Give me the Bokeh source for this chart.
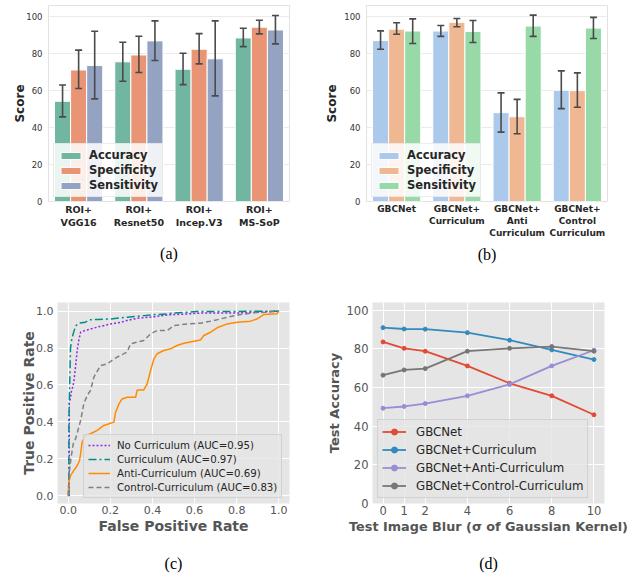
from bokeh.plotting import figure
from bokeh.models import (Range1d, FixedTicker, Legend, LegendItem, LinearAxis)
from bokeh.layouts import column, row
from bokeh.embed import file_html
from bokeh.resources import INLINE

# ---------------- data: panel (a) ----------------
a_categories = ["ROI+\nVGG16", "ROI+\nResnet50", "ROI+\nIncep.V3", "ROI+\nMS-SoP"]
a_metrics = ["Accuracy", "Specificity", "Sensitivity"]
a_accuracy = [54.1, 75.4, 71.4, 88.3]
a_accuracy_lo = [45.7, 64.9, 63.1, 83.6]
a_accuracy_hi = [62.9, 86.0, 80.0, 93.5]
a_specificity = [71.0, 79.1, 82.2, 94.1]
a_specificity_lo = [61.0, 69.6, 74.3, 90.5]
a_specificity_hi = [81.7, 89.2, 90.6, 97.8]
a_sensitivity = [73.4, 86.7, 77.0, 92.6]
a_sensitivity_lo = [55.4, 76.1, 57.0, 85.1]
a_sensitivity_hi = [91.9, 97.5, 97.5, 100.4]

# ---------------- data: panel (b) ----------------
b_categories = ["GBCNet", "GBCNet+\nCurriculum", "GBCNet+\nAnti\nCurriculum",
                "GBCNet+\nControl\nCurriculum"]
b_accuracy = [87.0, 92.1, 48.0, 60.1]
b_accuracy_lo = [82.3, 89.2, 37.5, 50.2]
b_accuracy_hi = [92.2, 95.1, 58.7, 70.6]
b_specificity = [93.1, 96.8, 45.8, 59.9]
b_specificity_lo = [90.4, 94.4, 36.6, 50.9]
b_specificity_hi = [96.6, 98.9, 55.2, 69.5]
b_sensitivity = [92.1, 91.9, 94.8, 93.7]
b_sensitivity_lo = [85.4, 85.9, 89.2, 88.1]
b_sensitivity_hi = [98.7, 97.8, 100.7, 99.5]

# ---------------- data: panel (c) ROC curves ----------------
roc_none_fpr = [0.0, 0.005, 0.005, 0.011, 0.016, 0.022, 0.027, 0.035, 0.043, 0.05, 0.059,
                0.08, 0.12, 0.15, 0.2, 0.25, 0.28, 0.33, 0.41, 0.47, 0.565, 0.63, 0.8, 1.0]
roc_none_tpr = [0.0, 0.0, 0.50, 0.53, 0.57, 0.59, 0.62, 0.70, 0.79, 0.84, 0.886,
                0.895, 0.908, 0.917, 0.93, 0.94, 0.95, 0.962, 0.97, 0.98, 0.985, 0.99, 0.99, 1.0]
roc_cur_fpr = [0.0, 0.003, 0.003, 0.008, 0.011, 0.016, 0.022, 0.035, 0.05, 0.082, 0.098,
               0.14, 0.2, 0.28, 0.36, 0.42, 0.47, 0.50, 0.61, 1.0]
roc_cur_tpr = [0.0, 0.0, 0.40, 0.65, 0.80, 0.84, 0.87, 0.92, 0.935, 0.94, 0.953,
               0.955, 0.958, 0.967, 0.976, 0.982, 0.985, 0.99, 0.998, 1.0]
roc_anti_fpr = [0.0, 0.003, 0.011, 0.027, 0.043, 0.054, 0.059, 0.066, 0.082, 0.106, 0.138,
                0.169, 0.201, 0.217, 0.225, 0.241, 0.256, 0.28, 0.32, 0.328, 0.359, 0.375,
                0.391, 0.407, 0.422, 0.454, 0.486, 0.517, 0.549, 0.597, 0.628, 0.644, 0.676,
                0.707, 0.755, 0.802, 0.866, 0.897, 0.929, 0.992, 1.0]
roc_anti_tpr = [0.0, 0.072, 0.108, 0.136, 0.163, 0.19, 0.226, 0.289, 0.325, 0.335, 0.353,
                0.38, 0.392, 0.398, 0.452, 0.497, 0.524, 0.533, 0.533, 0.573, 0.573, 0.606,
                0.678, 0.741, 0.769, 0.787, 0.796, 0.814, 0.826, 0.837, 0.844, 0.868, 0.886,
                0.91, 0.931, 0.94, 0.946, 0.958, 0.982, 0.986, 1.0]
roc_ctrl_fpr = [0.0, 0.006, 0.014, 0.024, 0.035, 0.046, 0.059, 0.074, 0.09, 0.106, 0.122,
                0.153, 0.185, 0.217, 0.248, 0.28, 0.296, 0.328, 0.359, 0.391, 0.422, 0.47,
                0.502, 0.565, 0.628, 0.691, 0.755, 0.818, 0.881, 0.945, 1.0]
roc_ctrl_tpr = [0.0, 0.136, 0.208, 0.28, 0.307, 0.353, 0.407, 0.497, 0.542, 0.57, 0.642,
                0.705, 0.714, 0.741, 0.76, 0.778, 0.823, 0.832, 0.841, 0.877, 0.895, 0.895,
                0.922, 0.931, 0.935, 0.949, 0.967, 0.982, 0.991, 0.995, 1.0]
roc_labels = ["No Curriculum (AUC=0.95)", "Curriculum (AUC=0.97)",
              "Anti-Curriculum (AUC=0.69)", "Control-Curriculum (AUC=0.83)"]

# ---------------- data: panel (d) ----------------
blur_sigma = [0, 1, 2, 4, 6, 8, 10]
acc_gbcnet = [83.6, 80.3, 78.8, 71.2, 62.2, 55.7, 45.9]
acc_curriculum = [91.0, 90.3, 90.2, 88.4, 84.5, 79.5, 74.5]
acc_anti = [49.3, 50.2, 51.7, 55.7, 61.6, 71.2, 79.3]
acc_control = [66.4, 69.1, 69.8, 78.8, 80.3, 81.2, 78.8]
d_labels = ["GBCNet", "GBCNet+Curriculum", "GBCNet+Anti-Curriculum",
            "GBCNet+Control-Curriculum"]

FONT = "DejaVu Sans"
SERIF = "Liberation Serif"


def no_ticks(ax):
    ax.axis_line_color = None
    ax.major_tick_line_color = None
    ax.minor_tick_line_color = None
    ax.major_tick_out = 0
    ax.major_tick_in = 0
    ax.minor_tick_out = 0
    ax.minor_tick_in = 0


def bar_panel(cats, vals, los, his, colors, border_left, border_right, tick_font_size,
              caption, caption_standoff, ymax, ylabel_standoff):
    p = figure(frame_width=241, frame_height=196,
               min_border_left=border_left, min_border_right=border_right,
               min_border_top=5, min_border_bottom=87,
               x_range=Range1d(-0.5, 3.5), y_range=Range1d(0, ymax),
               output_backend="svg", toolbar_location=None)
    p.background_fill_color = "white"
    p.outline_line_color = "#e2e2e2"
    p.outline_line_width = 1
    bw = 0.8 / 3
    offsets = [-bw, 0.0, bw]
    renderers = []
    for k in range(3):
        xs = [i + offsets[k] for i in range(len(cats))]
        r = p.vbar(x=xs, top=vals[k], bottom=0, width=bw, fill_color=colors[k],
                   line_color="white", line_width=1)
        renderers.append(r)
    cap = 0.058
    for k in range(3):
        xs = [i + offsets[k] for i in range(len(cats))]
        p.segment(x0=xs, y0=los[k], x1=xs, y1=his[k], line_color="#4a4a4a", line_width=1.6)
        p.segment(x0=[x - cap for x in xs], y0=his[k], x1=[x + cap for x in xs], y1=his[k],
                  line_color="#4a4a4a", line_width=1.6)
        p.segment(x0=[x - cap for x in xs], y0=los[k], x1=[x + cap for x in xs], y1=los[k],
                  line_color="#4a4a4a", line_width=1.6)
    p.xgrid.visible = False
    p.ygrid.grid_line_color = "#ebebeb"
    p.ygrid.grid_line_width = 1
    p.yaxis.ticker = FixedTicker(ticks=[0, 20, 40, 60, 80, 100])
    p.xaxis.ticker = FixedTicker(ticks=list(range(len(cats))))
    p.xaxis.major_label_overrides = {i: c for i, c in enumerate(cats)}
    for ax in (p.xaxis[0], p.yaxis[0]):
        no_ticks(ax)
        ax.major_label_text_font = FONT
    p.yaxis.major_label_text_font_size = "8.5px"
    p.yaxis.major_label_text_color = "#333333"
    p.yaxis.major_label_standoff = 6
    p.yaxis.axis_label = "Score"
    p.yaxis.axis_label_text_font = FONT
    p.yaxis.axis_label_text_font_style = "bold"
    p.yaxis.axis_label_text_font_size = "12px"
    p.yaxis.axis_label_text_color = "#262626"
    p.yaxis.axis_label_standoff = ylabel_standoff
    p.xaxis.major_label_text_font_size = tick_font_size
    p.xaxis.major_label_text_font_style = "bold"
    p.xaxis.major_label_text_color = "#262626"
    p.xaxis.major_label_standoff = 2
    # figure caption, centred under the panel
    p.xaxis.axis_label = caption
    p.xaxis.axis_label_text_font = SERIF
    p.xaxis.axis_label_text_font_style = "normal"
    p.xaxis.axis_label_text_font_size = "16px"
    p.xaxis.axis_label_text_color = "black"
    p.xaxis.axis_label_standoff = caption_standoff
    legend = Legend(items=[LegendItem(label=a_metrics[k], renderers=[renderers[k]])
                           for k in range(3)],
                    location=(5, 4))
    legend.label_text_font = FONT
    legend.label_text_font_style = "bold"
    legend.label_text_font_size = "11.5px"
    legend.label_text_color = "#262626"
    legend.glyph_width = 25
    legend.glyph_height = 9
    legend.label_height = 12
    legend.spacing = 1
    legend.padding = 4
    legend.margin = 0
    legend.label_standoff = 6
    legend.border_line_color = "#d9d9d9"
    legend.border_line_width = 1
    legend.background_fill_color = "white"
    legend.background_fill_alpha = 0.85
    p.add_layout(legend)
    return p


def ggplot_style(p, tick_size, label_size, ylabel_standoff):
    p.background_fill_color = "#e5e5e5"
    p.outline_line_color = None
    p.xgrid.grid_line_color = "white"
    p.ygrid.grid_line_color = "white"
    p.xgrid.grid_line_width = 1
    p.ygrid.grid_line_width = 1
    for ax in (p.xaxis[0], p.yaxis[0]):
        no_ticks(ax)
        ax.major_label_text_font = FONT
        ax.major_label_text_font_size = tick_size
        ax.major_label_text_color = "#555555"
        ax.major_label_standoff = 4
        ax.axis_label_text_font = FONT
        ax.axis_label_text_font_style = "bold"
        ax.axis_label_text_font_size = label_size
        ax.axis_label_text_color = "#555555"
    p.yaxis.axis_label_standoff = ylabel_standoff
    p.xaxis.major_label_standoff = 2
    p.xaxis.axis_label_standoff = 1


def add_caption_axis(p, caption, standoff):
    cap_axis = LinearAxis(ticker=FixedTicker(ticks=[]))
    no_ticks(cap_axis)
    cap_axis.major_label_text_font_size = "1px"
    cap_axis.major_label_standoff = 0
    cap_axis.axis_label = caption
    cap_axis.axis_label_text_font = SERIF
    cap_axis.axis_label_text_font_style = "normal"
    cap_axis.axis_label_text_font_size = "16px"
    cap_axis.axis_label_text_color = "black"
    cap_axis.axis_label_standoff = standoff
    p.add_layout(cap_axis, "below")


# ---------------- panel (a) ----------------
set2 = ["#71b6a1", "#e99575", "#95a3c3"]
pa = bar_panel(a_categories,
               [a_accuracy, a_specificity, a_sensitivity],
               [a_accuracy_lo, a_specificity_lo, a_sensitivity_lo],
               [a_accuracy_hi, a_specificity_hi, a_sensitivity_hi],
               set2, 48, 33, "9.5px", "(a)", 14, 105.8, -4)

# ---------------- panel (b) ----------------
pastel = ["#abc9ea", "#efb792", "#98daa7"]
pb = bar_panel(b_categories,
               [b_accuracy, b_specificity, b_sensitivity],
               [b_accuracy_lo, b_specificity_lo, b_sensitivity_lo],
               [b_accuracy_hi, b_specificity_hi, b_sensitivity_hi],
               pastel, 41, 31, "9px", "(b)", 5, 105.9, 2)

# ---------------- panel (c) ----------------
pc = figure(frame_width=232, frame_height=201, min_border_left=57, min_border_right=33,
            min_border_top=14, min_border_bottom=74,
            x_range=Range1d(-0.0508, 1.0508), y_range=Range1d(-0.0434, 1.0472),
            output_backend="svg", toolbar_location=None)
ggplot_style(pc, "11px", "14px", -4)
pc.xaxis.ticker = FixedTicker(ticks=[0, 0.2, 0.4, 0.6, 0.8, 1.0])
pc.yaxis.ticker = FixedTicker(ticks=[0, 0.2, 0.4, 0.6, 0.8, 1.0])
pc.xaxis.major_label_overrides = {0: "0.0", 1: "1.0"}
pc.yaxis.major_label_overrides = {0: "0.0", 1: "1.0"}
pc.xaxis.axis_label = "False Positive Rate"
pc.yaxis.axis_label = "True Positive Rate"
r1 = pc.line(roc_none_fpr, roc_none_tpr, line_color="#8a2be2", line_width=1.5,
             line_dash="2 2")
r2 = pc.line(roc_cur_fpr, roc_cur_tpr, line_color="#008b8b", line_width=1.5,
             line_dash="8 3 2 3")
r3 = pc.line(roc_anti_fpr, roc_anti_tpr, line_color="#ff8c00", line_width=1.5)
r4 = pc.line(roc_ctrl_fpr, roc_ctrl_tpr, line_color="#808080", line_width=1.5,
             line_dash="5 3")
leg_c = Legend(items=[LegendItem(label=roc_labels[i], renderers=[r])
                      for i, r in enumerate([r1, r2, r3, r4])], location=(26, 5))
leg_c.label_text_font = FONT
leg_c.label_text_font_size = "10.2px"
leg_c.label_text_color = "#262626"
leg_c.glyph_width = 22
leg_c.glyph_height = 12
leg_c.label_height = 12
leg_c.spacing = 2
leg_c.padding = 4
leg_c.margin = 0
leg_c.label_standoff = 7
leg_c.border_line_color = "#cccccc"
leg_c.border_line_alpha = 0.8
leg_c.background_fill_color = "#e5e5e5"
leg_c.background_fill_alpha = 0.8
pc.add_layout(leg_c)
add_caption_axis(pc, "(c)", 18)

# ---------------- panel (d) ----------------
pd_ = figure(frame_width=232, frame_height=201, min_border_left=50, min_border_right=31,
             min_border_top=14, min_border_bottom=74,
             x_range=Range1d(-0.5, 10.5), y_range=Range1d(0, 104),
             output_backend="svg", toolbar_location=None)
ggplot_style(pd_, "11.5px", "13px", 2)
pd_.xaxis.axis_label_text_font_size = "12.8px"
pd_.xaxis.ticker = FixedTicker(ticks=blur_sigma)
pd_.yaxis.ticker = FixedTicker(ticks=[0, 20, 40, 60, 80, 100])
pd_.xaxis.axis_label = "Test Image Blur (σ of Gaussian Kernel)"
pd_.yaxis.axis_label = "Test Accuracy"
d_colors = ["#e24a33", "#348abd", "#988ed5", "#777777"]
d_series = [acc_gbcnet, acc_curriculum, acc_anti, acc_control]
items = []
for i, ys in enumerate(d_series):
    rl = pd_.line(blur_sigma, ys, line_color=d_colors[i], line_width=1.8)
    rs = pd_.scatter(blur_sigma, ys, marker="circle", size=4, fill_color=d_colors[i],
                     line_color=d_colors[i])
    items.append(LegendItem(label=d_labels[i], renderers=[rl, rs]))
leg_d = Legend(items=items, location=(5, 5))
leg_d.label_text_font = FONT
leg_d.label_text_font_size = "11.8px"
leg_d.label_text_color = "#262626"
leg_d.glyph_width = 24
leg_d.glyph_height = 15
leg_d.label_height = 15
leg_d.spacing = 3
leg_d.padding = 4
leg_d.margin = 0
leg_d.label_standoff = 10
leg_d.border_line_color = "#cccccc"
leg_d.border_line_alpha = 0.8
leg_d.background_fill_color = "#e5e5e5"
leg_d.background_fill_alpha = 0.8
pd_.add_layout(leg_d)
add_caption_axis(pd_, "(d)", 18)

layout = column(row(pa, pb), row(pc, pd_))

with open("out.html", "w") as f:
    f.write(file_html(layout, INLINE))
